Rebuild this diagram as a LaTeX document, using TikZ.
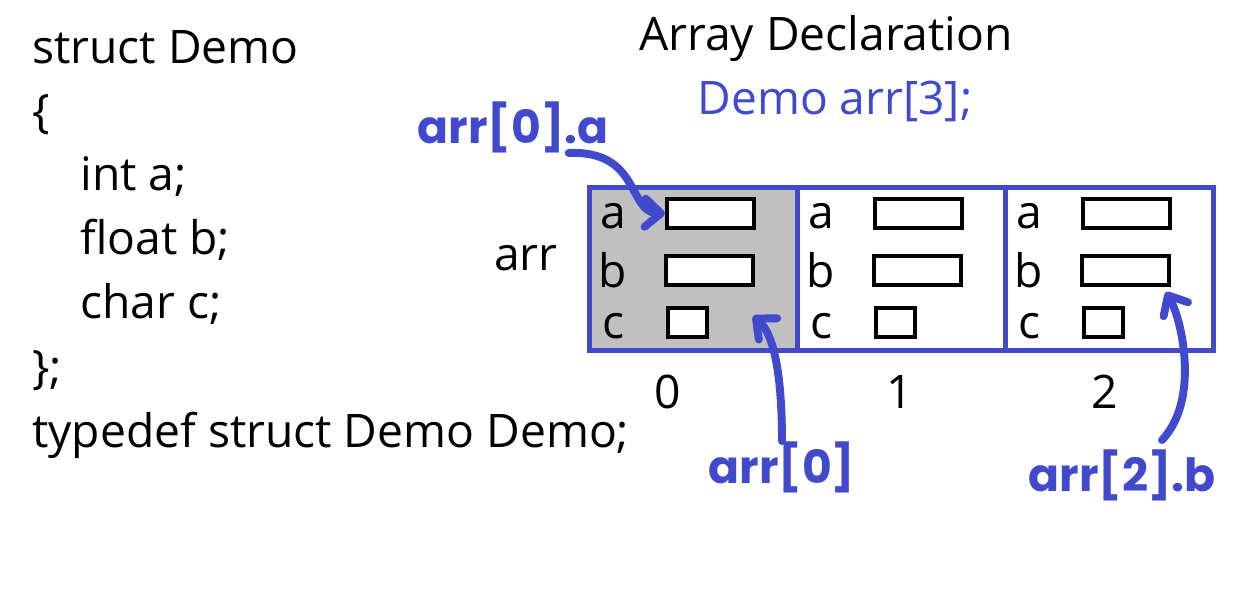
\documentclass[tikz,border=0pt]{standalone}
\usepackage{fontspec}
\setmainfont{Open Sans}
\newfontfamily\handfont{Poppins}
\usetikzlibrary{arrows.meta}
\definecolor{penblue}{RGB}{65,74,204}
\definecolor{cellgray}{RGB}{192,192,192}

\begin{document}
\begin{tikzpicture}[x=0.02cm, y=-0.02cm,
  txt/.style={font=\fontsize{26.3}{31}\selectfont, inner sep=0pt},
  code/.style={txt, anchor=base west},
  cell/.style={draw=penblue, line width=2.6pt, minimum width=4.16cm, minimum height=3.26cm, inner sep=0pt, anchor=north west},
  field/.style={draw=black, line width=2.4pt, fill=white, inner sep=0pt, minimum height=0.58cm},
  hand/.style={text=penblue, inner sep=0pt, font=\handfont\bfseries\fontsize{26}{30}\selectfont},
  pen/.style={draw=penblue, line width=4.5pt, line cap=round, -{Straight Barb[length=9pt, width=16pt, round]}}
]
\useasboundingbox (0,0) rectangle (1243,595);
% struct definition
\node[code] (l1) at (32,63) {struct Demo};
\node[code] (l2) at (32,127) {\{};
\node[code] (l3) at (80,190) {int a;};
\node[code] (l4) at (80,254) {float b;};
\node[code] (l5) at (80,318) {char c;};
\node[code] (l6) at (32,383) {\};};
\node[code] (l7) at (32,447) {typedef struct Demo Demo;};
% heading
\node[txt, anchor=base] (title) at (826,50) {Array Declaration};
\node[txt, anchor=base, text=penblue] (decl) at (835,114) {Demo arr[3];};
\node[txt, anchor=base] (arr) at (526,270) {arr};
% array cells
\foreach \i/\x/\fc in {0/587/cellgray, 1/795/white, 2/1003/white} {
  \node[cell, fill=\fc] (cell\i) at (\x,185) {};
  \node[txt, anchor=base] (la\i) at (\x+26,228) {a};
  \node[txt, anchor=base] (lb\i) at (\x+26,287) {b};
  \node[txt, anchor=base] (lc\i) at (\x+26,338) {c};
  \node[field, minimum width=1.74cm] (fa\i) at (\x+123.5,213.5) {};
  \node[field, minimum width=1.74cm] (fb\i) at (\x+122.5,270.5) {};
  \node[field, minimum width=0.78cm] (fc\i) at (\x+100.5,322.5) {};
}
\node[txt] (idx0) at (668,392) {0};
\node[txt] (idx1) at (900,392) {1};
\node[txt] (idx2) at (1105,392) {2};
% handwritten notes
\node[hand] (noteA) at (513,127) {arr[0].a};
\node[hand] (note0) at (782,467) {arr[0]};
\node[hand] (noteB) at (1122,475) {arr[2].b};
\coordinate (tip0) at (753,316);
\coordinate (from2) at (1162,440);
\coordinate (tip2) at (1166,292);
\draw[pen] (noteA.-25) .. controls (640,150) and (628,212) .. (fa0.west);
\draw[pen] (note0.north) .. controls (782,380) and (775,335) .. (tip0);
\draw[pen] (from2) .. controls (1200,400) and (1182,320) .. (tip2);
\end{tikzpicture}
\end{document}
